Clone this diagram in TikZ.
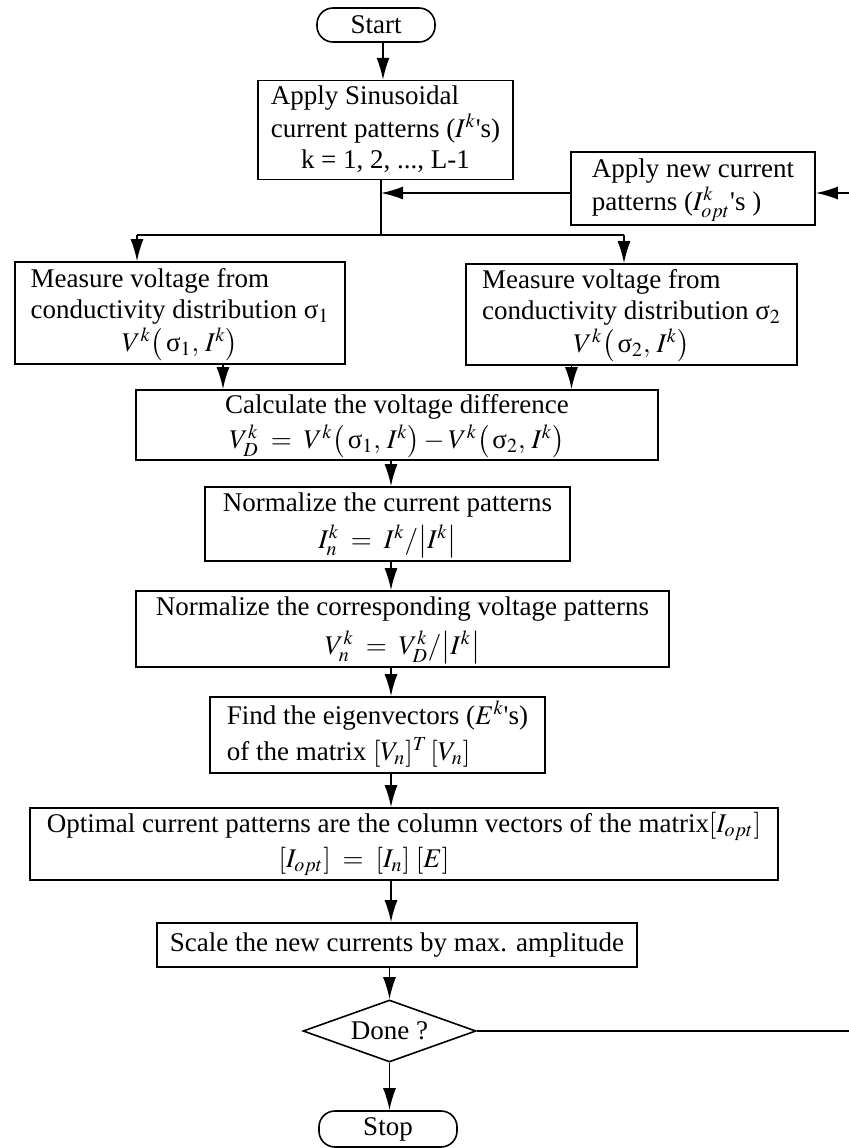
\documentclass[tikz,border=0pt]{standalone}
\usepackage{mathptmx}
\usepackage[no-math]{fontspec}
\setmainfont{Liberation Serif}
\usetikzlibrary{shapes.geometric,arrows.meta}

\newcommand{\usig}{\mbox{σ}}
\newcommand{\aps}{\textquotesingle}

\tikzset{
  box/.style={draw, line width=0.8pt, rectangle, inner sep=1pt, font=\fontsize{13.5}{15.5}\selectfont},
  term/.style={box, rounded corners=8pt},
  test/.style={box, diamond, aspect=2.8, inner sep=0pt},
  flow/.style={draw, line width=0.8pt, ->, >={Latex[length=11pt,width=6.5pt]}},
  link/.style={draw, line width=0.8pt}
}

\begin{document}
\begin{tikzpicture}[x=0.5pt,y=-0.5pt]
\useasboundingbox (0,0) rectangle (848,1148);

\node[term, minimum width=59pt, minimum height=17pt] (start) at (376,25) {Start};
\node[box, minimum width=127.5pt, minimum height=43pt] (apply) at (385.5,130)
  {\begin{tabular}{@{}l@{}}Apply Sinusoidal\\current patterns ($I^k$\aps s)\\\multicolumn{1}{@{}c@{}}{k = 1, 2, ..., L-1}\end{tabular}};
\node[box, minimum width=122pt, minimum height=36.5pt] (newpat) at (693,188.5)
  {\begin{tabular}{@{}l@{}}Apply new current\\patterns ($I^k_{opt}$\aps s )\end{tabular}};
\node[box, minimum width=165pt, minimum height=51pt] (m1) at (180,313)
  {\begin{tabular}{@{}l@{}}Measure voltage from\\conductivity distribution $\usig_1$\\\multicolumn{1}{@{}c@{}}{$V^k\bigl(\,\usig_1,\, I^k\bigr)$}\end{tabular}};
\node[box, minimum width=165.5pt, minimum height=50.5pt] (m2) at (631.5,314.5)
  {\begin{tabular}{@{}l@{}}Measure voltage from\\conductivity distribution $\usig_2$\\\multicolumn{1}{@{}c@{}}{$V^k\bigl(\,\usig_2,\, I^k\bigr)$}\end{tabular}};
\node[box, minimum width=261pt, minimum height=33pt] (calc) at (397,425)
  {\begin{tabular}{@{}c@{}}Calculate the voltage difference\\[1pt]$V^k_D \;=\; V^k\bigl(\,\usig_1,\, I^k\bigr) - V^k\bigl(\,\usig_2,\, I^k\bigr)$\end{tabular}};
\node[box, minimum width=182.5pt, minimum height=37pt] (ncur) at (387.5,524)
  {\begin{tabular}{@{}c@{}}Normalize the current patterns\\[2pt]$I^k_n \;=\; I^k/\bigl|I^k\bigr|$\end{tabular}};
\node[box, minimum width=266.5pt, minimum height=38pt] (nvol) at (402.5,629)
  {\begin{tabular}{@{}c@{}}Normalize the corresponding voltage patterns\\[3pt]$V^k_n \;=\; V^k_D/\bigl|I^k\bigr|$\end{tabular}};
\node[box, minimum width=167.5pt, minimum height=38pt] (eigen) at (377.5,735)
  {\begin{tabular}{@{}l@{}}Find the eigenvectors ($E^k$\aps s)\\[2pt]of the matrix $[V_n]^T\,[V_n]$\end{tabular}};
\node[box, minimum width=374pt, minimum height=36pt] (opt) at (404,844)
  {\begin{tabular}{@{}c@{}}Optimal current patterns are the column vectors of the matrix$[I_{opt}]$\\[2pt]$[I_{opt}] \;=\; [I_n]\;[E]$\hspace*{40pt}\end{tabular}};
\node[box, minimum width=240pt, minimum height=22pt] (scale) at (397,945) {Scale the new currents by max. amplitude};
\node[test, minimum width=86.5pt, minimum height=31pt] (done) at (389.5,1031) {Done ?};
\node[term, minimum width=69pt, minimum height=18pt] (stop) at (388,1129) {Stop};

\coordinate (axis) at (391,0);
\coordinate (join) at (381,193);
\coordinate (split) at (381,235);
\coordinate (left) at (137,235);
\coordinate (right) at (624,235);
\coordinate (back) at (850,193);

\path[flow] (start.south -| 383,0) -- (apply.north -| 383,0);
\path[link] (apply.south -| split) -- (split);
\path[flow] (newpat.west |- join) -- (join);
\path[link] (left) -- (right);
\path[flow] (left) -- (left |- m1.north);
\path[flow] (right) -- (right |- m2.north);
\path[flow] ([xshift=21.5pt]m1.south) -- ([xshift=21.5pt]m1.south |- calc.north);
\path[flow] ([xshift=-30pt]m2.south) -- ([xshift=-30pt]m2.south |- calc.north);
\path[flow] (calc.south -| axis) -- (ncur.north -| axis);
\path[flow] (ncur.south -| axis) -- (nvol.north -| axis);
\path[flow] (nvol.south -| axis) -- (eigen.north -| axis);
\path[flow] (eigen.south -| axis) -- (opt.north -| axis);
\path[flow] (opt.south -| axis) -- (scale.north -| axis);
\path[flow] (scale.south -| done) -- (done.north);
\path[flow] (done.south) -- (stop.north -| done);
\path[flow] (done.east) -| (back) -- (newpat.east |- back);
\end{tikzpicture}
\end{document}
